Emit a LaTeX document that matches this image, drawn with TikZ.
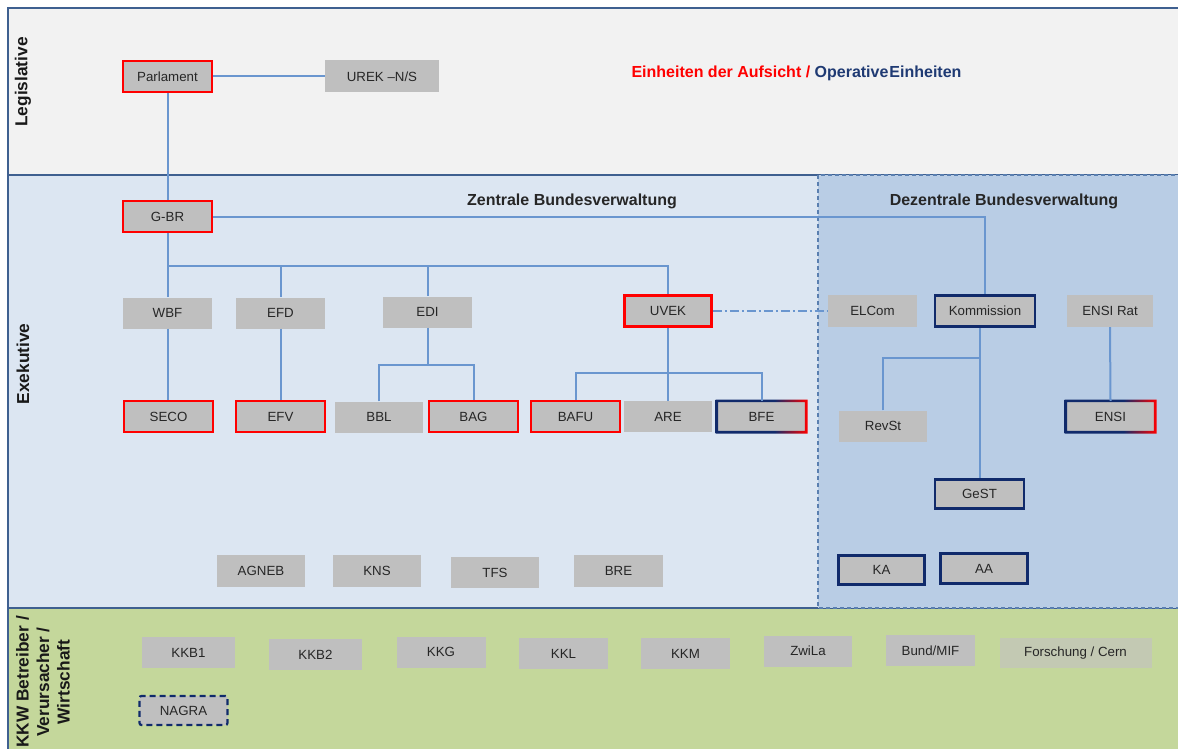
\documentclass[tikz,border=0pt]{standalone}
\usepackage{fontspec}
\setmainfont{Liberation Sans}
\usetikzlibrary{calc}
\definecolor{boxgray}{HTML}{BFBFBF}
\definecolor{forgray}{HTML}{C3C9B3}
\definecolor{linec}{HTML}{6A96CF}
\definecolor{navyc}{HTML}{102A6B}
\definecolor{legisfill}{HTML}{F2F2F2}
\definecolor{exefill}{HTML}{DCE6F2}
\definecolor{dezfill}{HTML}{B9CDE5}
\definecolor{greenfill}{HTML}{C4D79B}
\definecolor{bandline}{HTML}{3F6090}
\definecolor{dezline}{HTML}{5A7FB0}
\definecolor{legnavy}{HTML}{1F3A73}
\pgfdeclarehorizontalshading{navyred}{100bp}{color(0bp)=(navyc); color(25bp)=(navyc); color(57bp)=(navyc); color(75bp)=(red); color(100bp)=(red)}
\tikzset{
  box/.style={fill=boxgray, inner sep=0pt, minimum width=89pt, minimum height=31pt,
    text=black!85, font=\fontsize{13.3}{16}\selectfont},
  redbox/.style={box, draw=red, line width=2.8pt},
  navybox/.style={box, draw=navyc, line width=2.6pt},
  dashbox/.style={box, draw=navyc, line width=2.2pt, dash pattern=on 6pt off 4pt, rounded corners=2pt},
  conn/.style={draw=linec, line width=2pt},
  dashdot/.style={draw=linec, line width=1.8pt, dash pattern=on 9pt off 3pt on 2pt off 3pt},
  header/.style={font=\fontsize{16}{19}\selectfont\bfseries, text=black!85},
  sidelabel/.style={font=\fontsize{17.3}{20.5}\selectfont\bfseries, rotate=90, align=center, text=black!90},
  band/.style={draw=bandline, line width=1.6pt}
}
\newcommand{\gradborder}[1]{%
  \shade[shading=navyred, even odd rule]
    ([xshift=-1.3pt,yshift=1.3pt]#1.north west) rectangle ([xshift=1.3pt,yshift=-1.3pt]#1.south east)
    ([xshift=1.3pt,yshift=-1.3pt]#1.north west) rectangle ([xshift=-1.3pt,yshift=1.3pt]#1.south east);}
\begin{document}
\begin{tikzpicture}[x=1pt,y=-1pt]
\useasboundingbox (0,0) rectangle (1178,749);
\clip (0,0) rectangle (1178,749);
\fill[white] (0,0) rectangle (1178,749);
% bands
\filldraw[band, fill=legisfill] (8,8) rectangle (1190,175);
\filldraw[band, fill=exefill] (8,175) rectangle (1190,608);
\filldraw[band, fill=greenfill] (8,608) rectangle (1190,760);
\filldraw[fill=dezfill, draw=dezline, line width=1.4pt, dash pattern=on 4pt off 3pt] (818,175) rectangle (1190,608);
% side labels
\node[sidelabel] (lleg) at (23,82) {Legislative};
\node[sidelabel] (lexe) at (23,364) {Exekutive};
\node[sidelabel] (lkkw) at (43,682) {KKW Betreiber /\\Verursacher /\\Wirtschaft};
% headers
\node[header] (hz) at (572,201) {Zentrale Bundesverwaltung};
\node[header] (hd) at (1004,201) {Dezentrale Bundesverwaltung};
\node[header, anchor=west] (legend) at (628,73) {\textcolor{red}{Einheiten der Aufsicht /} \textcolor{legnavy}{Operative\kern1pt Einheiten}};
% legislative
\node[redbox] (parl) at (167.5,76.5) {Parlament};
\node[box, minimum width=114pt, minimum height=32pt] (urek) at (382,76.5) {UREK --N/S};
% executive central
\node[redbox] (gbr) at (167.5,216.5) {G-BR};
\node[box] (wbf) at (167.5,313) {WBF};
\node[box] (efd) at (280.5,313) {EFD};
\node[box] (edi) at (427.5,312) {EDI};
\node[redbox, minimum width=87pt] (uvek) at (668,311) {UVEK};
\node[redbox] (seco) at (168.5,416.5) {SECO};
\node[redbox] (efv) at (280.5,416.5) {EFV};
\node[box, minimum width=88pt] (bbl) at (379,417) {BBL};
\node[redbox] (bag) at (473.5,416.5) {BAG};
\node[redbox] (bafu) at (575.5,416.5) {BAFU};
\node[box, minimum width=88pt] (are) at (668,416.5) {ARE};
\node[box] (bfe) at (761.5,416.5) {BFE};
\gradborder{bfe}
\node[box, minimum width=88pt, minimum height=32pt] (agneb) at (261,571) {AGNEB};
\node[box, minimum width=88pt, minimum height=32pt] (kns) at (377,571) {KNS};
\node[box, minimum width=88pt] (tfs) at (495,572.5) {TFS};
\node[box, minimum height=32pt] (bre) at (618.5,571) {BRE};
% executive decentral
\node[box, minimum height=32pt] (elcom) at (872.5,311) {ELCom};
\node[navybox, minimum width=100pt] (komm) at (985,311) {Kommission};
\node[box, minimum width=86pt, minimum height=32pt] (ensirat) at (1110,311) {ENSI Rat};
\node[box, minimum width=88pt] (revst) at (883,426) {RevSt};
\node[navybox, minimum height=29pt] (gest) at (979.5,494) {GeST};
\node[box] (ensi) at (1110.5,416.5) {ENSI};
\gradborder{ensi}
\node[navybox, minimum width=86pt, minimum height=29pt] (ka) at (881.5,570) {KA};
\node[navybox, minimum width=87pt, minimum height=30pt] (aa) at (984,568.5) {AA};
% bottom band
\node[box, minimum width=93pt] (kkb1) at (188.5,652.5) {KKB1};
\node[box, minimum width=93pt] (kkb2) at (315.5,654.5) {KKB2};
\node[box] (kkg) at (441,652) {KKG};
\node[box] (kkl) at (563.5,653.5) {KKL};
\node[box] (kkm) at (685.5,653.5) {KKM};
\node[box, minimum width=88pt] (zwila) at (808,651) {ZwiLa};
\node[box] (bund) at (930.5,650.5) {Bund/MIF};
\node[box, fill=forgray, minimum width=152pt, minimum height=30pt] (forsch) at (1075.5,653) {Forschung / Cern};
\node[dashbox, minimum width=88pt, minimum height=29pt] (nagra) at (183.5,710.5) {NAGRA};
% connectors
\coordinate (hb) at (0,266);
\coordinate (hedi) at (0,365);
\coordinate (hu) at (0,373);
\coordinate (hk) at (0,358);
\draw[conn] (parl.east) -- (urek.west);
\draw[conn] (parl.south) -- (gbr.north);
\draw[conn] (gbr.east) -| (komm.north);
\draw[conn] (gbr.south) -- (wbf.north);
\draw[conn] (wbf.north |- hb) -| (uvek.north);
\draw[conn] (efd.north |- hb) -- (efd.north);
\draw[conn] (edi.north |- hb) -- (edi.north);
\draw[conn] (wbf.south) -- (wbf.south |- seco.north);
\draw[conn] (efd.south) -- (efv.north);
\draw[conn] (edi.south) -- (edi.south |- hedi);
\draw[conn] (bbl.north) |- (bag.north |- hedi) -- (bag.north);
\draw[conn] (uvek.south) -- (are.north);
\draw[conn] (bafu.north) |- (bfe.north |- hu) -- (bfe.north);
\draw[dashdot] (uvek.east) -- (elcom.west);
\draw[conn] (gest.north) -- (gest.north |- komm.south);
\draw[conn] (revst.north) |- (gest.north |- hk);
\draw[conn] (ensirat.south) -- (ensi.north);
\end{tikzpicture}
\end{document}
